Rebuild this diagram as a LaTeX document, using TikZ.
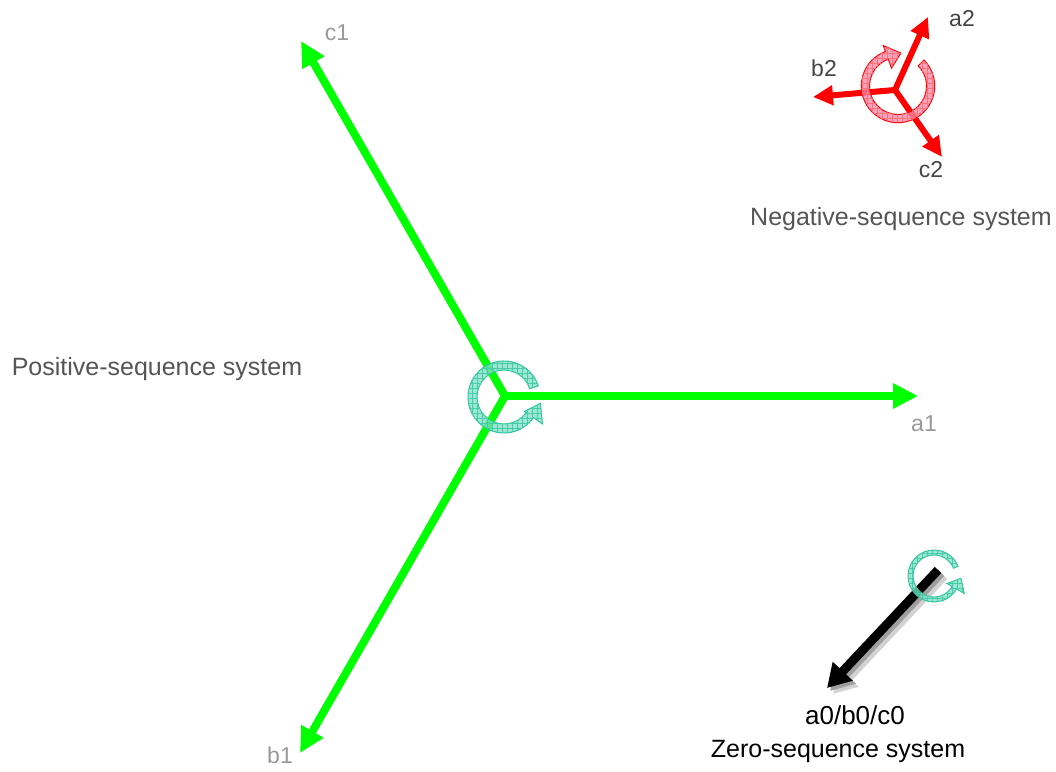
\documentclass[tikz,border=0pt]{standalone}
\usepackage{fontspec}
\setmainfont{Liberation Sans}
\usepackage{xcolor}
\definecolor{PhaseGreen}{HTML}{00FF00}
\definecolor{PhaseRed}{HTML}{FF0000}
\definecolor{RotTeal}{HTML}{2EC79E}
\definecolor{RotPink}{HTML}{F2649A}
\definecolor{LabelGray}{HTML}{999999}
\definecolor{TextGray}{HTML}{555555}
\definecolor{DarkGray}{HTML}{444444}
\usepackage{tikz}
\usetikzlibrary{arrows.meta,patterns.meta}
\tikzdeclarepattern{name=rotgrid, type=uncolored,
    bottom left={(-1pt,-1pt)}, top right={(6pt,6pt)}, tile size={(5pt,5pt)},
    code={\draw[line width=0.35pt] (0pt,2.5pt) -- (5pt,2.5pt) (2.5pt,0pt) -- (2.5pt,5pt);}}

\begin{document}
\begin{tikzpicture}[x=1pt, y=1pt,
    posvec/.style={draw=PhaseGreen, line width=8pt, -{Triangle[length=25pt,width=24pt]}},
    negvec/.style={draw=PhaseRed, line width=6pt, -{Triangle[length=20pt,width=19pt]}},
    zerovec/.style={draw=black, line width=9pt, -{Triangle[length=23pt,width=26pt]}},
    rotpos/.style={draw=RotTeal, line width=1pt, fill=RotTeal!60, fill opacity=0.75,
        postaction={pattern=rotgrid, pattern color=RotTeal!90}},
    rotneg/.style={draw=PhaseRed, line width=1pt, fill=RotPink!80, fill opacity=0.75,
        postaction={pattern=rotgrid, pattern color=PhaseRed!55}},
    phlabel/.style={font=\fontsize{23}{26}\selectfont, anchor=base},
    syslabel/.style={font=\fontsize{25}{30}\selectfont, anchor=base}]
    \useasboundingbox (0,0) rectangle (1056,771);

    % Mitte und Spitzen der Zeiger
    \coordinate (o1) at (505,375);
    \coordinate (a1tip) at (918,375);
    \coordinate (b1tip) at (300,18);
    \coordinate (c1tip) at (301,730);
    \coordinate (o2) at (895,681);
    \coordinate (a2tip) at (928,754);
    \coordinate (b2tip) at (813,674);
    \coordinate (c2tip) at (942,614);
    \coordinate (o0) at (938,201);
    \coordinate (z0tip) at (827,83);

    % Mitsystem
    \draw[posvec] (o1) -- (a1tip);
    \draw[posvec] (o1) -- (b1tip);
    \draw[posvec] (o1) -- (c1tip);
    \begin{scope}[shift={(504,374)}]
        \draw[rotpos] (18:36) arc[start angle=18, end angle=325, radius=36] -- (325:47) -- (350:37) -- (325:25) -- (325:27) arc[start angle=325, end angle=18, radius=27] -- cycle;
    \end{scope}
    \node[phlabel, LabelGray] (a1) at (924,339) {a1};
    \node[phlabel, LabelGray] (b1) at (280,8) {b1};
    \node[phlabel, LabelGray] (c1) at (337,730) {c1};
    \node[syslabel, TextGray] (pos) at (157,395) {Positive-sequence system};

    % Gegensystem
    \draw[negvec] (o2) -- (a2tip);
    \draw[negvec] (o2) -- (b2tip);
    \draw[negvec] (o2) -- (c2tip);
    \begin{scope}[shift={(898,685)}]
        \draw[rotneg] (45:36.7) arc[start angle=45, end angle=-250, radius=36.7] -- (-250:43) -- (-275:33) -- (-250:19) -- (-250:28.5) arc[start angle=-250, end angle=45, radius=28.5] -- cycle;
    \end{scope}
    \node[phlabel, DarkGray] (a2) at (962,744) {a2};
    \node[phlabel, DarkGray] (b2) at (824,694) {b2};
    \node[phlabel, DarkGray] (c2) at (931,593) {c2};
    \node[syslabel, TextGray] (neg) at (901,545) {Negative-sequence system};

    % Nullsystem (mit Schatten)
    \draw[zerovec, draw=gray!35, transform canvas={shift={(6pt,-6pt)}}] (o0) -- (z0tip);
    \draw[zerovec, draw=gray!75, transform canvas={shift={(3pt,-3pt)}}] (o0) -- (z0tip);
    \draw[zerovec] (o0) -- (z0tip);
    \begin{scope}[shift={(934,195)}]
        \draw[rotpos] (22:26) arc[start angle=22, end angle=330, radius=26] -- (330:35) -- (355:27) -- (330:15) -- (330:21) arc[start angle=330, end angle=22, radius=21] -- cycle;
    \end{scope}
    \node[syslabel, font=\fontsize{26}{30}\selectfont] (abc0) at (855,47) {a0/b0/c0};
    \node[syslabel] (zero) at (838,14) {Zero-sequence system};
\end{tikzpicture}
\end{document}
